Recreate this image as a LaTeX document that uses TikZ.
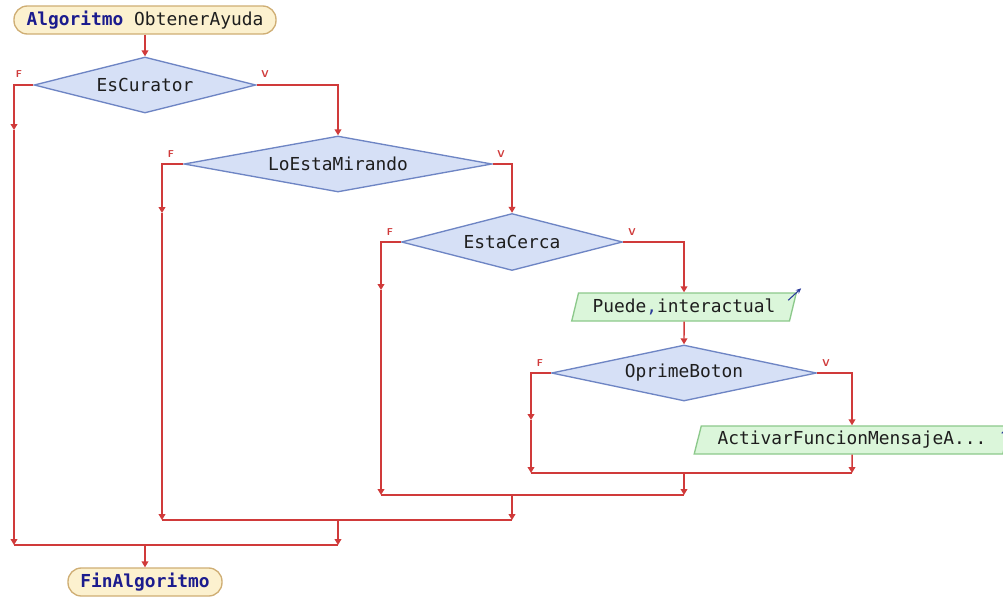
\documentclass[tikz,border=0pt]{standalone}
\usepackage{fontspec}
\setmonofont{DejaVu Sans Mono}
\usetikzlibrary{shapes.geometric,arrows.meta}
\definecolor{flowred}{HTML}{D03A3A}
\definecolor{termfill}{HTML}{FCF1CF}
\definecolor{termdraw}{HTML}{CFAE74}
\definecolor{decfill}{HTML}{D6E0F6}
\definecolor{decdraw}{HTML}{6E85C4}
\definecolor{iofill}{HTML}{DBF6DA}
\definecolor{iodraw}{HTML}{8CC98B}
\definecolor{kw}{HTML}{1C1C8E}
\definecolor{txt}{HTML}{1E1E1E}
\definecolor{outblue}{HTML}{2A3A9A}
\def\u{0.75pt}
\tikzset{
  base/.style={font=\ttfamily\fontsize{13.4}{15}\selectfont, text=txt, inner sep=0pt},
  term/.style={base, rectangle, rounded corners=10pt, draw=termdraw, fill=termfill, line width=1pt, minimum height=28*\u, inner xsep=8*\u},
  dec/.style={base, diamond, draw=decdraw, fill=decfill, line width=1pt},
  io/.style={base, trapezium, trapezium left angle=70, trapezium right angle=110, trapezium stretches=true, draw=iodraw, fill=iofill, line width=1pt, minimum height=28*\u},
  line/.style={draw=flowred, line width=1.1pt},
  flow/.style={line, -{Triangle[length=4.5pt,width=5pt]}},
  tf/.style={text=flowred, font=\sffamily\bfseries\fontsize{7.5}{8}\selectfont, inner sep=0pt},
  outarr/.style={draw=outblue, line width=0.8pt, -{Stealth[length=4pt,width=3.5pt]}}
}
\begin{document}
\begin{tikzpicture}[x=0.75pt,y=-0.75pt]
\useasboundingbox (0,0) rectangle (1003,600);
\clip (0,0) rectangle (1003,600);
\fill[white] (0,0) rectangle (1003,600);

% nodes
\node[term, minimum width=262*\u] (start) at (145,20) {\textcolor{kw}{\bfseries Algoritmo} ObtenerAyuda};
\node[dec, aspect=4, minimum width=222*\u, minimum height=56*\u] (d1) at (145,85) {EsCurator};
\node[dec, aspect=5.5, minimum width=308*\u, minimum height=56*\u] (d2) at (338,164) {LoEstaMirando};
\node[dec, aspect=3.9, minimum width=221*\u, minimum height=57*\u] (d3) at (512,242) {EstaCerca};
\node[io, minimum width=225*\u] (p1) at (684,307) {Puede\textcolor{outblue}{,}interactual};
\node[dec, aspect=4.7, minimum width=265*\u, minimum height=56*\u] (d4) at (684,373) {OprimeBoton};
\node[io, minimum width=316*\u] (p2) at (852,440) {ActivarFuncionMensajeA...};
\node[term, minimum width=154*\u] (fin) at (145,582) {\textcolor{kw}{\bfseries FinAlgoritmo}};

% output marks
\draw[outarr] ([shift={(-9,8)}]p1.top right corner) -- ++(13,-12);
\draw[outarr] ([shift={(-9,8)}]p2.top right corner) -- ++(13,-12);

% branch labels
\node[tf] (lf1) at (19,74) {F};
\node[tf] (lv1) at (265,74) {V};
\node[tf] (lf2) at (171,154) {F};
\node[tf] (lv2) at (501,154) {V};
\node[tf] (lf3) at (390,232) {F};
\node[tf] (lv3) at (632,232) {V};
\node[tf] (lf4) at (540,363) {F};
\node[tf] (lv4) at (826,363) {V};

% coordinates
\coordinate (f1a) at (14,130);
\coordinate (m1l) at (14,545);
\coordinate (m1r) at (338,545);
\coordinate (m1c) at (145,545);
\coordinate (f2a) at (162,213);
\coordinate (m2l) at (162,520);
\coordinate (m2r) at (512,520);
\coordinate (m2c) at (338,520);
\coordinate (f3a) at (381,290);
\coordinate (m3l) at (381,495);
\coordinate (m3r) at (684,495);
\coordinate (m3c) at (512,495);
\coordinate (f4a) at (531,420);
\coordinate (m4l) at (531,473);
\coordinate (m4r) at (852,473);
\coordinate (m4c) at (684,473);

% connectors
\draw[flow] (start) -- (d1);
\draw[flow] (d1.west) -| (f1a);
\draw[flow] (f1a) -- (m1l);
\draw[flow] (d1.east) -| (d2.north);
\draw[flow] (d2.west) -| (f2a);
\draw[flow] (f2a) -- (m2l);
\draw[flow] (d2.east) -| (d3.north);
\draw[flow] (d3.west) -| (f3a);
\draw[flow] (f3a) -- (m3l);
\draw[flow] (d3.east) -| (p1.north);
\draw[flow] (p1) -- (d4);
\draw[flow] (d4.west) -| (f4a);
\draw[flow] (f4a) -- (m4l);
\draw[flow] (d4.east) -| (p2.north);
\draw[flow] (p2.south) -- (m4r);
\draw[line] (m4l) -- (m4r);
\draw[flow] (m4c) -- (m3r);
\draw[line] (m3l) -- (m3r);
\draw[flow] (m3c) -- (m2r);
\draw[line] (m2l) -- (m2r);
\draw[flow] (m2c) -- (m1r);
\draw[line] (m1l) -- (m1r);
\draw[flow] (m1c) -- (fin);
\end{tikzpicture}
\end{document}
